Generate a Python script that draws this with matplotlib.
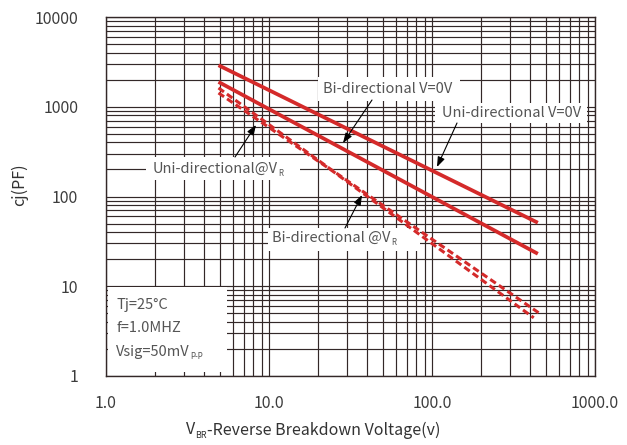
import matplotlib
matplotlib.use("Agg")
import matplotlib.pyplot as plt
from matplotlib.patches import Rectangle
from matplotlib.ticker import FixedLocator, LogLocator, NullFormatter

plt.rcParams['font.family'] = ['Noto Sans CJK SC', 'DejaVu Sans']
plt.rcParams['font.weight'] = 'light'
plt.rcParams['mathtext.default'] = 'regular'

# ---- data ----
uni_v0_x = [4.9, 446]
uni_v0_y = [2900, 51]
bi_v0_x = [4.9, 446]
bi_v0_y = [1890, 23]
uni_vr_x = [4.9, 24, 452]
uni_vr_y = [1620, 200, 5.05]
bi_vr_x = [4.9, 24, 421]
bi_vr_y = [1425, 198, 4.45]

x_ticks = [1, 10, 100, 1000]
x_ticklabels = ['1.0', '10.0', '100.0', '1000.0']
y_ticks = [1, 10, 100, 1000, 10000]
y_ticklabels = ['1', '10', '100', '1000', '10000']

W, H = 627, 445
fig = plt.figure(figsize=(W / 100, H / 100), dpi=100)
ax = fig.add_axes([106 / W, 1 - 376 / H, (595 - 106) / W, (376 - 17) / H])
ax.set_xscale('log')
ax.set_yscale('log')
ax.set_xlim(1, 1000)
ax.set_ylim(1, 10000)

grid_c = '#332828'
ax.xaxis.set_major_locator(FixedLocator(x_ticks))
ax.yaxis.set_major_locator(FixedLocator(y_ticks))
ax.xaxis.set_minor_locator(LogLocator(base=10, subs=range(2, 10)))
ax.yaxis.set_minor_locator(LogLocator(base=10, subs=range(2, 10)))
ax.xaxis.set_minor_formatter(NullFormatter())
ax.yaxis.set_minor_formatter(NullFormatter())
ax.set_xticklabels(x_ticklabels)
ax.set_yticklabels(y_ticklabels)
ax.grid(True, which='both', color=grid_c, lw=0.85, zorder=0.5)
ax.set_axisbelow(True)
ax.tick_params(which='both', direction='in', length=0, colors='#3c3c3c',
               labelsize=11.5)
ax.tick_params(axis='x', pad=14)
ax.tick_params(axis='y', pad=20)
for s in ax.spines.values():
    s.set_color(grid_c)
    s.set_linewidth(1.0)

red = '#d42a2a'
ax.plot(uni_v0_x, uni_v0_y, color=red, lw=2.7, zorder=3, solid_capstyle='butt')
ax.plot(bi_v0_x, bi_v0_y, color=red, lw=2.7, zorder=3, solid_capstyle='butt')
ax.plot(uni_vr_x, uni_vr_y, color=red, lw=2.2, ls=(0, (2.2, 1.2)), zorder=3)
ax.plot(bi_vr_x, bi_vr_y, color=red, lw=2.2, ls=(0, (2.2, 1.2)), zorder=3)

def fx(px):
    return px / W

def fy(py):
    return 1 - py / H

def box(x0, y0, x1, y1):
    ax.add_patch(Rectangle((fx(x0), fy(y1)), (x1 - x0) / W, (y1 - y0) / H,
                           transform=fig.transFigure, facecolor='white',
                           edgecolor='none', zorder=2, clip_on=False))

tc = '#555555'
fs = 10.5

def label(px, py, main, sub=None, size=fs, color=tc, ha='left'):
    t = fig.text(fx(px), fy(py), main, ha=ha, va='center', color=color,
                 fontsize=size, zorder=5)
    if sub:
        fig.canvas.draw()
        bb = t.get_window_extent()
        fig.text(bb.x1 / W + 0.5 / W, fy(py + size * 0.42), sub, ha='left',
                 va='center', color=color, fontsize=size * 0.55, zorder=5)
    return t

# labels with white boxes
box(318, 77, 460, 101)
label(323, 89, 'Bi-directional V=0V')
box(435, 103, 587, 123)
label(442, 113, 'Uni-directional V=0V')
box(146, 157, 300, 180)
label(153, 169, 'Uni-directional@V', 'R')
box(268, 228, 420, 251)
label(272, 238, 'Bi-directional @V', 'R')

# condition box
box(108, 287, 227, 372)
label(116, 305, 'Tj=25°C')
label(116, 328, 'f=1.0MHZ')
label(116, 352, 'Vsig=50mV', 'P-P')

# arrows
arrows = [((372, 100), (343, 143)),
          ((457, 123), (437, 167)),
          ((235, 157), (256, 125)),
          ((345, 228), (362, 195))]
for (tx, ty), (hx, hy) in arrows:
    ax.annotate('', xy=(fx(hx), fy(hy)), xytext=(fx(tx), fy(ty)),
                xycoords='figure fraction', textcoords='figure fraction',
                arrowprops=dict(arrowstyle='-|>,head_length=0.6,head_width=0.22',
                                color='black', lw=0.8, shrinkA=0, shrinkB=0),
                zorder=6)

fig.text(fx(20), fy(185), 'cj(PF)', rotation=90, ha='center', va='center',
         color='#333333', fontsize=11.5)
# x label: V + subscript BR + rest
fig.canvas.draw()
xl_main = fig.text(0, fy(430), 'V', ha='left', va='center', color='#333333',
                   fontsize=11.5)
xl_sub = fig.text(0, fy(435), 'BR', ha='left', va='center', color='#333333',
                  fontsize=6.5)
xl_rest = fig.text(0, fy(430), '-Reverse Breakdown Voltage(v)', ha='left',
                   va='center', color='#333333', fontsize=11.5)
fig.canvas.draw()
w1 = xl_main.get_window_extent().width
w2 = xl_sub.get_window_extent().width
w3 = xl_rest.get_window_extent().width
start = 313 - (w1 + w2 + w3) / 2
xl_main.set_x(start / W)
xl_sub.set_x((start + w1) / W)
xl_rest.set_x((start + w1 + w2) / W)

fig.savefig('out.png', dpi=100)
